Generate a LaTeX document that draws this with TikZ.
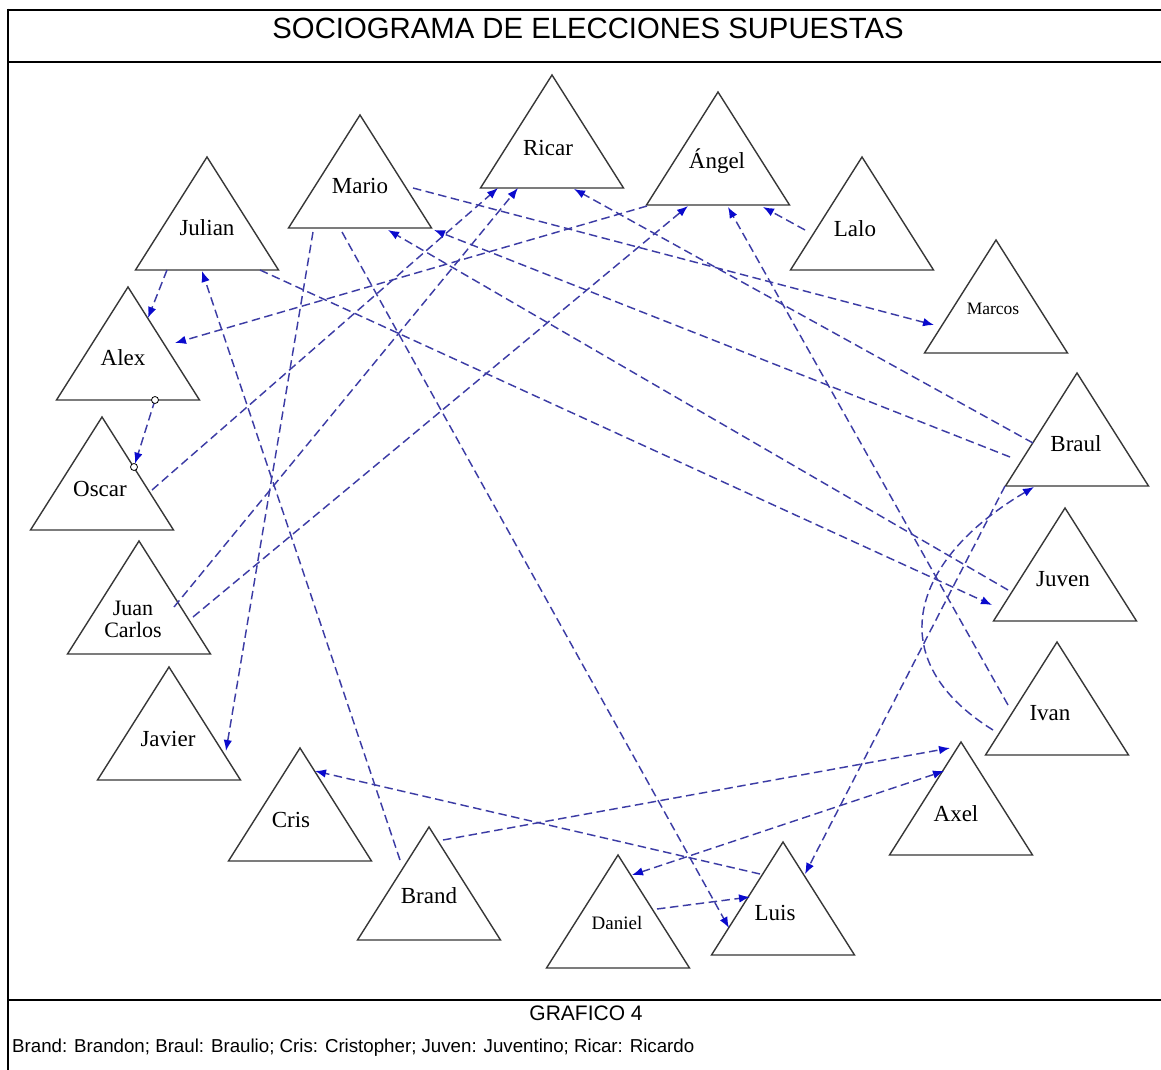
\documentclass[tikz,border=0pt]{standalone}
\usepackage{fontspec}
\setmainfont{Liberation Serif}
\setsansfont{Liberation Sans}
\usetikzlibrary{arrows.meta,calc}

\definecolor{linkblue}{RGB}{60,60,165}
\definecolor{tipblue}{RGB}{10,10,205}
\definecolor{edgegray}{RGB}{55,55,55}

\tikzset{
  frame/.style={line width=2.6pt, black},
  person/.pic={
    \coordinate (-a) at (0,0);
    \coordinate (-l) at (-71.5,113);
    \coordinate (-r) at (71.5,113);
    \draw[edgegray, line width=1.4pt, fill=white, line join=miter] (-a) -- (-l) -- (-r) -- cycle;
  },
  lbl/.style={font=\fontsize{23}{23}\selectfont, anchor=base, inner sep=0pt},
  lblsmall/.style={lbl, font=\fontsize{17.5}{17.5}\selectfont},
  tipA/.tip={Latex[length=11pt,width=8.5pt,color=tipblue]},
  link/.style={linkblue, line width=1.45pt, dash pattern=on 8.5pt off 4.5pt, -tipA},
  mutual/.style={link, tipA-tipA},
  port/.style={circle, draw=black, fill=white, line width=0.8pt, minimum size=7pt, inner sep=0pt},
}

\begin{document}
\begin{tikzpicture}[x=1pt, y=-1pt]
\useasboundingbox (0,0) rectangle (1161,1070);
\fill[white] (0,0) rectangle (1161,1070);

% frame and headings
\draw[frame] (8,10) -- (1161,10);
\draw[frame] (8,62) -- (1161,62);
\draw[frame] (8,1000) -- (1161,1000);
\draw[frame] (8,8.7) -- (8,1070);
\node[anchor=base, inner sep=0pt, font=\sffamily\fontsize{29.3}{30}\selectfont] (title) at (588,38.5)
  {SOCIOGRAMA DE ELECCIONES SUPUESTAS};
\node[anchor=base, inner sep=0pt, font=\sffamily\fontsize{21}{21}\selectfont] (grafico) at (586,1020) {GRAFICO 4};
\node[anchor=base west, inner sep=0pt, font=\sffamily\fontsize{18.7}{19}\selectfont] (legend) at (12,1052)
  {Brand: Brandon; Braul: Braulio; Cris: Cristopher; Juven: Juventino; Ricar: Ricardo};

% the people
\pic (julian) at (207,157) {person};
\pic (mario) at (360,115) {person};
\pic (ricar) at (552,75) {person};
\pic (angel) at (718,92) {person};
\pic (lalo) at (862,157) {person};
\pic (marcos) at (996,240) {person};
\pic (braul) at (1077,373) {person};
\pic (juven) at (1065,508) {person};
\pic (ivan) at (1057,642) {person};
\pic (axel) at (961,742) {person};
\pic (luis) at (783,842) {person};
\pic (daniel) at (618,855) {person};
\pic (brand) at (429,827) {person};
\pic (cris) at (300,748) {person};
\pic (javier) at (169,667) {person};
\pic (juancarlos) at (139,541) {person};
\pic (oscar) at (102,417) {person};
\pic (alex) at (128,287) {person};

\node[lbl] (julian-t) at ($(julian-a)+(0,78)$) {Julian};
\node[lbl] (mario-t) at ($(mario-a)+(0,78)$) {Mario};
\node[lbl] (ricar-t) at ($(ricar-a)+(-4,80)$) {Ricar};
\node[lbl] (angel-t) at ($(angel-a)+(-1,76)$) {Ángel};
\node[lbl] (lalo-t) at ($(lalo-a)+(-7,79)$) {Lalo};
\node[lblsmall] (marcos-t) at ($(marcos-a)+(-3,74)$) {Marcos};
\node[lbl] (braul-t) at ($(braul-a)+(-1,78)$) {Braul};
\node[lbl] (juven-t) at ($(juven-a)+(-2,78)$) {Juven};
\node[lbl] (ivan-t) at ($(ivan-a)+(-7,78)$) {Ivan};
\node[lbl] (axel-t) at ($(axel-a)+(-5,79)$) {Axel};
\node[lbl] (luis-t) at ($(luis-a)+(-8,78)$) {Luis};
\node[lbl, font=\fontsize{19}{19}\selectfont] (daniel-t) at ($(daniel-a)+(-1,74)$) {Daniel};
\node[lbl] (brand-t) at ($(brand-a)+(0,76)$) {Brand};
\node[lbl] (cris-t) at ($(cris-a)+(-9,79)$) {Cris};
\node[lbl] (javier-t) at ($(javier-a)+(-1,79)$) {Javier};
\node[lbl, font=\fontsize{22}{22}\selectfont] (juancarlos-t1) at ($(juancarlos-a)+(-6,74)$) {Juan};
\node[lbl, font=\fontsize{22}{22}\selectfont] (juancarlos-t2) at ($(juancarlos-a)+(-6,96)$) {Carlos};
\node[lbl] (oscar-t) at ($(oscar-a)+(-2,79)$) {Oscar};
\node[lbl] (alex-t) at ($(alex-a)+(-5,78)$) {Alex};

% choices
\draw[link] ($(julian-a)+(-40,113)$) -- ($(alex-a)+(20,31)$);
\coordinate (alex-out) at ($(alex-a)+(27,113)$);
\coordinate (oscar-in) at ($(oscar-a)+(32,50)$);
\draw[link, shorten >=3.5pt] (alex-out) -- (oscar-in);
\node[port] (alex-dot) at (alex-out) {};
\node[port] (oscar-dot) at (oscar-in) {};
\draw[link] ($(oscar-a)+(50,73)$) -- ($(ricar-a)+(-54,113)$);
\draw[link] ($(juancarlos-a)+(35,66)$) -- ($(ricar-a)+(-34,113)$);
\draw[link] ($(juancarlos-a)+(54,76)$) -- ($(angel-a)+(-30,114)$);
\draw[link] ($(angel-a)+(-71,114)$) -- ($(alex-a)+(47,56)$);
\draw[link] ($(lalo-a)+(-57,73)$) -- ($(angel-a)+(45,115)$);
\draw[link] ($(mario-a)+(53,73)$) -- ($(marcos-a)+(-62,85)$);
\draw[link] ($(julian-a)+(53,113)$) -- ($(juven-a)+(-73,97)$);
\draw[link] ($(braul-a)+(-44,70)$) -- ($(ricar-a)+(22,114)$);
\draw[link] ($(braul-a)+(-67,84)$) -- ($(mario-a)+(74,115)$);
\draw[link] ($(juven-a)+(-57,82)$) -- ($(mario-a)+(28,115)$);
\draw[link] ($(ivan-a)+(-49,63)$) -- ($(angel-a)+(10,115)$);
\draw[link] ($(ivan-a)+(-64,88)$) .. controls +(-113,-70) and +(-124,73) .. ($(braul-a)+(-43,114)$);
\draw[link] ($(braul-a)+(-72,113)$) -- ($(luis-a)+(22,32)$);
\draw[link] ($(brand-a)+(14,13)$) -- ($(axel-a)+(-11,6)$);
\draw[mutual] ($(daniel-a)+(14,20)$) -- ($(axel-a)+(-17,29)$);
\draw[link] ($(daniel-a)+(39,54)$) -- ($(luis-a)+(-33,55)$);
\draw[link] ($(mario-a)+(-18,117)$) -- ($(luis-a)+(-54,86)$);
\draw[link] ($(mario-a)+(-47,117)$) -- ($(javier-a)+(57,84)$);
\draw[link] ($(brand-a)+(-29,33)$) -- ($(julian-a)+(-5,114)$);
\draw[link] ($(luis-a)+(-23,32)$) -- ($(cris-a)+(15,23)$);
\end{tikzpicture}
\end{document}
